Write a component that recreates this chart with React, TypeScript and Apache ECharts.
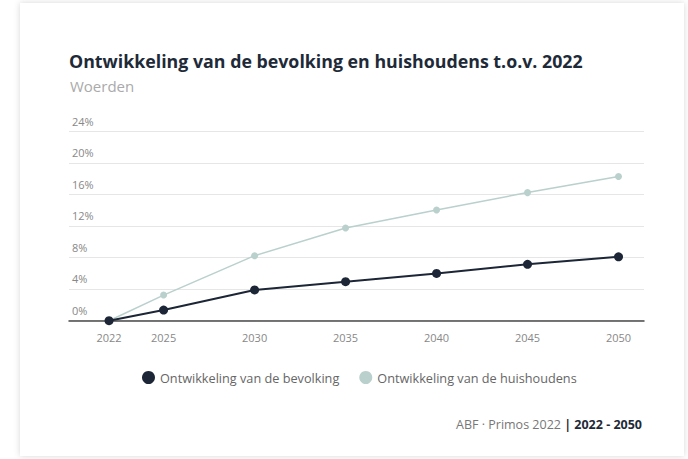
import React, { useEffect, useRef } from "react";
import * as echarts from "echarts";

const years = [2022, 2025, 2030, 2035, 2040, 2045, 2050];
const bevolking = [0, 1.35, 3.9, 4.95, 6.0, 7.15, 8.1];
const huishoudens = [0, 3.25, 8.25, 11.75, 14.05, 16.25, 18.3];
const yTicks = [0, 4, 8, 12, 16, 20, 24];
const seriesNames = ["Ontwikkeling van de bevolking", "Ontwikkeling van de huishoudens"];
const title = "Ontwikkeling van de bevolking en huishoudens t.o.v. 2022";
const subtitle = "Woerden";

export default function App() {
  const ref = useRef<HTMLDivElement>(null);
  useEffect(() => {
    if (!ref.current) return;
    const chart = echarts.init(ref.current, undefined, { renderer: "svg" });
    const font = "'Open Sans', 'Noto Sans', sans-serif";
    chart.setOption({
      animation: false,
      backgroundColor: "#ffffff",
      textStyle: { fontFamily: font },
      graphic: [
        {
          type: "rect",
          z: -10,
          shape: { x: 20, y: 3, width: 664, height: 453 },
          style: { fill: "#ffffff", shadowBlur: 6, shadowColor: "rgba(0,0,0,0.16)" },
        },
        {
          type: "text",
          left: 69,
          top: 52,
          style: { text: title, fontSize: 17.8, fontWeight: "bold", fill: "#1e2a38", fontFamily: font },
        },
        {
          type: "text",
          left: 70,
          top: 78,
          style: { text: subtitle, fontSize: 15, fill: "#aaaaaa", fontFamily: font },
        },
        {
          type: "text",
          right: 46,
          top: 418,
          style: {
            text: "{a|ABF · Primos 2022 }{b|| 2022 - 2050}",
            fontFamily: font,
            rich: {
              a: { fontSize: 12.5, fill: "#777777", fontFamily: font },
              b: { fontSize: 12.5, fontWeight: "bold", fill: "#1e2a38", fontFamily: font },
            },
          },
        },
      ],
      legend: {
        top: 366,
        left: 137,
        icon: "circle",
        itemWidth: 13,
        itemHeight: 13,
        itemGap: 20,
        textStyle: { fontSize: 12.7, color: "#666666", fontFamily: font },
        data: seriesNames,
      },
      grid: { left: 69, right: 44, top: 131.5, bottom: 138.3, containLabel: false },
      xAxis: {
        type: "value",
        min: 2019.8,
        max: 2051.4,
        splitLine: { show: false },
        axisTick: { show: false },
        axisLine: { lineStyle: { color: "#4a4a4a", width: 1.5 } },
        axisLabel: {
          customValues: years,
          color: "#888888",
          fontSize: 11,
          margin: 11,
          fontFamily: font,
          formatter: (v: number) => String(v),
        },
      },
      yAxis: {
        type: "value",
        min: 0,
        max: 24,
        interval: 4,
        axisLine: { show: false },
        axisTick: { show: false },
        splitLine: { lineStyle: { color: "#e6e6e6", width: 1 } },
        axisLabel: {
          inside: true,
          margin: 3,
          verticalAlign: "bottom",
          padding: [0, 0, 5, 0],
          color: "#888888",
          fontSize: 11,
          fontFamily: font,
          formatter: (v: number) => (yTicks.includes(v) ? v + "%" : ""),
        },
      },
      series: [
        {
          name: seriesNames[1],
          type: "line",
          data: years.map((y, i) => [y, huishoudens[i]]),
          color: "#b9d0cc",
          symbol: "circle",
          symbolSize: 7,
          lineStyle: { width: 1.5, color: "#b9d0cc" },
          itemStyle: { color: "#b9d0cc" },
          z: 2,
        },
        {
          name: seriesNames[0],
          type: "line",
          data: years.map((y, i) => [y, bevolking[i]]),
          color: "#1c2636",
          symbol: "circle",
          symbolSize: 9,
          lineStyle: { width: 2, color: "#1c2636" },
          itemStyle: { color: "#1c2636" },
          z: 3,
        },
      ],
    });
    return () => chart.dispose();
  }, []);
  return <div ref={ref} style={{ position: "absolute", left: 0, top: 0, width: 688, height: 459 }} />;
}
